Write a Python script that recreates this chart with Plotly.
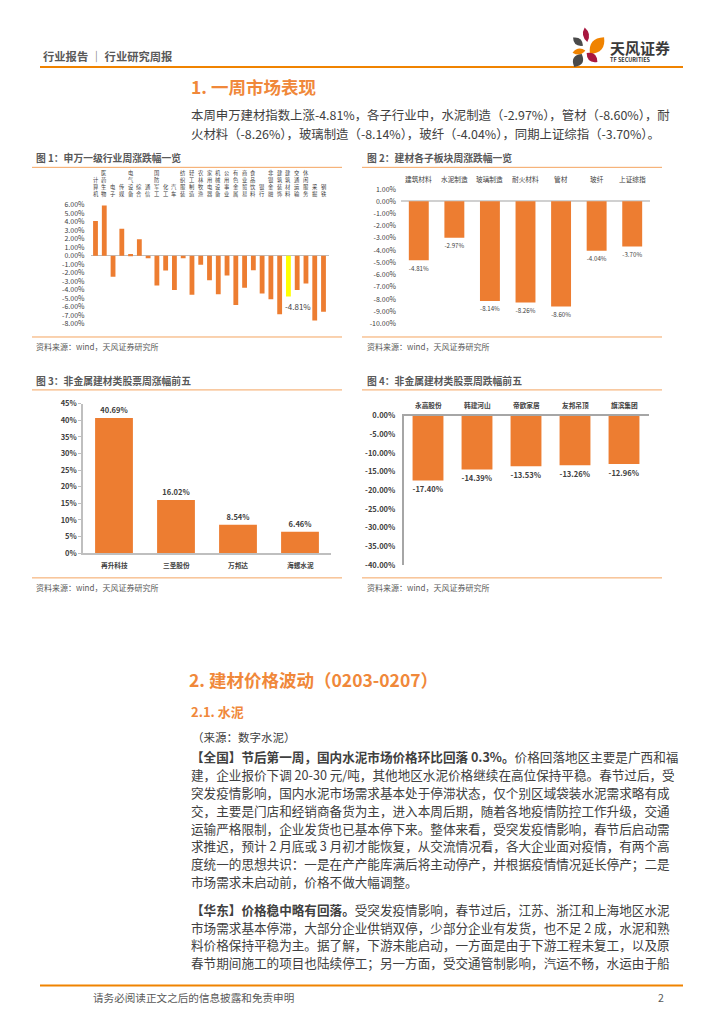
import math
import plotly.graph_objects as go

# ---------------- data ----------------
c1_cats = ["计算机", "医药生物", "电子", "传媒", "电气设备", "综合", "通信", "国防军工", "化工",
           "汽车", "纺织服装", "轻工制造", "农林牧渔", "家用电器", "机械设备", "公用事业",
           "有色金属", "商业贸易", "食品饮料", "银行", "非银金融", "建筑装饰", "建筑材料",
           "交通运输", "休闲服务", "采掘", "钢铁"]
c1_vals = [4.10, 5.93, -2.48, 3.20, 0.20, 1.94, -0.30, -3.49, -1.74,
           -4.03, -0.30, -4.60, -1.05, -2.87, -4.53, -2.33,
           -5.81, -3.76, -1.70, -4.46, -5.12, -6.90, -4.81,
           -4.03, -3.26, -7.64, -6.59]
c1_highlight = "建筑材料"
c1_ticks = list(range(-8, 7))

c2_cats = ["建筑材料", "水泥制造", "玻璃制造", "耐火材料", "管材", "玻纤", "上证综指"]
c2_vals = [-4.81, -2.97, -8.14, -8.26, -8.60, -4.04, -3.70]
c2_ticks = list(range(-10, 2))

c3_cats = ["再升科技", "三圣股份", "万邦达", "海螺水泥"]
c3_vals = [40.69, 16.02, 8.54, 6.46]
c3_ticks = list(range(0, 50, 5))

c4_cats = ["永高股份", "韩建河山", "帝欧家居", "友邦吊顶", "旗滨集团"]
c4_vals = [-17.40, -14.39, -13.53, -13.26, -12.96]
c4_ticks = list(range(-40, 5, 5))

# ---------------- helpers ----------------
W, H = 724, 1024
OFF = 8  # page body margin of the html page
FONT = "Noto Sans CJK SC"
BAR = "#ED7D31"
YELLOW = "#FFFF00"
HEAD = "#F0883A"
TXT = "#404040"
GRAY = "#595959"
LINE = "#F4A460"


def fx(x):
    return (x - OFF) / W


def fy(y):
    return 1 - (y - OFF) / H


fig = go.Figure()
annots = []
shapes = []


def text(x, y, s, size, color=TXT, bold=False, anchor="left", vanchor="middle"):
    annots.append(dict(x=fx(x), y=fy(y), xref="paper", yref="paper", text=(f"<b>{s}</b>" if bold else s),
                       showarrow=False, xanchor=anchor, yanchor=vanchor, borderpad=0,
                       font=dict(family=FONT, size=size, color=color)))


def hline(x0, x1, y, color=LINE, width=1):
    shapes.append(dict(type="line", xref="paper", yref="paper", x0=fx(x0), x1=fx(x1),
                       y0=fy(y), y1=fy(y), line=dict(color=color, width=width)))


# ---------------- chart 1 ----------------
colors1 = [YELLOW if c == c1_highlight else BAR for c in c1_cats]
fig.add_trace(go.Bar(x=c1_cats, y=c1_vals, marker=dict(color=colors1, line=dict(width=0)),
                     width=0.55, xaxis="x", yaxis="y", hoverinfo="skip"))
for c in c1_cats:
    annots.append(dict(x=c, y=fy(196), xref="x", yref="paper", text="<br>".join(list(c)),
                       showarrow=False, xanchor="center", yanchor="bottom",
                       font=dict(family=FONT, size=5.3, color=TXT)))
hi = c1_cats.index(c1_highlight)
annots.append(dict(x=c1_cats[hi], y=c1_vals[hi], xref="x", yref="y", text=f"{c1_vals[hi]:.2f}%",
                   showarrow=False, xanchor="left", yanchor="top", xshift=-5, yshift=-2,
                   font=dict(family=FONT, size=8, color=TXT)))

# ---------------- chart 2 ----------------
fig.add_trace(go.Bar(x=c2_cats, y=c2_vals, marker=dict(color=BAR, line=dict(width=0)), width=0.56,
                     xaxis="x2", yaxis="y2", hoverinfo="skip",
                     text=[f"{v:.2f}%" for v in c2_vals], textposition="outside",
                     textfont=dict(family=FONT, size=7.5, color=TXT), cliponaxis=False))
for c in c2_cats:
    annots.append(dict(x=c, y=fy(174.5), xref="x2", yref="paper", text=c, showarrow=False,
                       xanchor="center", yanchor="middle", font=dict(family=FONT, size=6.7, color=TXT)))

# ---------------- chart 3 ----------------
fig.add_trace(go.Bar(x=c3_cats, y=c3_vals, marker=dict(color=BAR, line=dict(width=0)), width=0.61,
                     xaxis="x3", yaxis="y3", hoverinfo="skip",
                     text=[f"<b>{v:.2f}%</b>" for v in c3_vals], textposition="outside",
                     textfont=dict(family=FONT, size=7.5, color=TXT), cliponaxis=False))
for c in c3_cats:
    annots.append(dict(x=c, y=fy(565), xref="x3", yref="paper", text=f"<b>{c}</b>", showarrow=False,
                       xanchor="center", yanchor="middle", font=dict(family=FONT, size=6.7, color=TXT)))

# ---------------- chart 4 ----------------
fig.add_trace(go.Bar(x=c4_cats, y=c4_vals, marker=dict(color=BAR, line=dict(width=0)), width=0.63,
                     xaxis="x4", yaxis="y4", hoverinfo="skip",
                     text=[f"<b>{v:.2f}%</b>" for v in c4_vals], textposition="outside",
                     textfont=dict(family=FONT, size=7.8, color=TXT), cliponaxis=False))
for c in c4_cats:
    annots.append(dict(x=c, y=fy(403), xref="x4", yref="paper", text=f"<b>{c}</b>", showarrow=False,
                       xanchor="center", yanchor="middle", font=dict(family=FONT, size=6.7, color=TXT)))

tickfont = dict(family=FONT, size=7, color=TXT)
layout_axes = dict(
    xaxis=dict(domain=[fx(90.5), fx(328.5)], anchor="y", showticklabels=False, showgrid=False,
               zeroline=False, showline=False, fixedrange=True),
    yaxis=dict(domain=[fy(322.7), fy(199.3)], anchor="x", range=[-8.2, 6.2], tickvals=c1_ticks,
               ticktext=[f"{v:.2f}%" for v in c1_ticks], tickfont=tickfont, showgrid=False,
               zeroline=True, zerolinecolor="#BFBFBF", zerolinewidth=1, showline=False, ticks="",
               ticklabelstandoff=5),
    xaxis2=dict(domain=[fx(401), fx(650)], anchor="y2", showticklabels=False, showgrid=False,
                zeroline=False, showline=False),
    yaxis2=dict(domain=[fy(323.5), fy(182.5)], anchor="x2", range=[-10.2, 1.2], tickvals=c2_ticks,
                ticktext=[f"{v:.2f}%" for v in c2_ticks], tickfont=tickfont, showgrid=False,
                zeroline=True, zerolinecolor="#D0D0D0", zerolinewidth=1.5, showline=False, ticks="",
                ticklabelstandoff=4),
    xaxis3=dict(domain=[fx(83), fx(331)], anchor="y3", showticklabels=False, showgrid=False,
                zeroline=False, showline=True, linecolor="#BFBFBF", linewidth=1.5),
    yaxis3=dict(domain=[fy(553), fy(402)], anchor="x3", range=[0, 45], tickvals=c3_ticks,
                ticktext=[f"<b>{v}%</b>" for v in c3_ticks], tickfont=dict(family=FONT, size=7.5, color=TXT),
                showgrid=False, zeroline=False, showline=True, linecolor="#BFBFBF", linewidth=1.5,
                ticks="outside", ticklen=3, tickcolor="#BFBFBF"),
    xaxis4=dict(domain=[fx(403.5), fx(648.5)], anchor="y4", side="top", showticklabels=False,
                showgrid=False, zeroline=False, showline=True, linecolor="#A6A6A6", linewidth=2),
    yaxis4=dict(domain=[fy(565), fy(414)], anchor="x4", range=[-40, 0], tickvals=c4_ticks,
                ticktext=[f"<b>{v:.2f}%</b>" for v in c4_ticks], tickfont=dict(family=FONT, size=7.5, color=TXT),
                showgrid=False, zeroline=False, showline=True, linecolor="#A6A6A6", linewidth=1.5, ticks="",
                ticklabelstandoff=5),
)

# ---------------- chart frames ----------------
text(35, 154, "图 1：申万一级行业周涨跌幅一览", 9.8, GRAY, bold=True)
text(366, 154, "图 2：建材各子板块周涨跌幅一览", 9.8, GRAY, bold=True)
text(35, 379, "图 3：非金属建材类股票周涨幅前五", 9.8, GRAY, bold=True)
text(366, 379, "图 4：非金属建材类股票周跌幅前五", 9.8, GRAY, bold=True)
for (x0, x1, y) in [(32, 342, 163), (362, 662, 163), (32, 342, 388), (362, 662, 388),
                    (32, 342, 334.5), (362, 662, 334.5), (32, 342, 578), (362, 662, 578)]:
    hline(x0, x1, y)
for (x, y) in [(35, 344.5), (366, 344.5), (35, 588), (366, 588)]:
    text(x, y, "资料来源：wind，天风证券研究所", 8, GRAY)

# ---------------- header / footer ----------------
text(42, 50, "行业报告 ｜ 行业研究周报", 11.3, GRAY, bold=True)
hline(40, 683, 61.5, color="#F08300", width=2)
hline(40, 683, 990, color="#F08300", width=2)
text(92, 1002, "请务必阅读正文之后的信息披露和免责申明", 10.6, GRAY)
text(665, 1002, "2", 10.6, GRAY, anchor="right")
text(609, 42, "天风证券", 15, "#3A3A3A", bold=True)
text(609, 55, "TF SECURITIES", 5.5, "#3A3A3A", bold=True)


def petal(cx, cy, L, Wd, ang, color):
    a = math.radians(ang)
    dx, dy = math.cos(a) * L / 2, math.sin(a) * L / 2
    px_, py_ = -math.sin(a) * Wd, math.cos(a) * Wd
    p1 = (cx - dx, cy - dy)
    p2 = (cx + dx, cy + dy)
    c1 = (cx + px_, cy + py_)
    c2 = (cx - px_, cy - py_)
    pth = (f"M {fx(p1[0])},{fy(p1[1])} Q {fx(c1[0])},{fy(c1[1])} {fx(p2[0])},{fy(p2[1])} "
           f"Q {fx(c2[0])},{fy(c2[1])} {fx(p1[0])},{fy(p1[1])} Z")
    shapes.append(dict(type="path", xref="paper", yref="paper", path=pth,
                       fillcolor=color, line=dict(width=0)))


CRIM, DARK, ORG = "#A8173F", "#4A4A4A", "#F08300"
petal(586, 29, 15, 6, 80, CRIM)
petal(578, 36, 13, 7, 40, DARK)
petal(597, 40, 22, 12, -50, ORG)
petal(579, 46, 13, 6, -10, ORG)
petal(592, 52, 14, 8, 40, CRIM)
petal(578, 55, 15, 10, -60, DARK)

# ---------------- body text ----------------
text(190, 81, "1. 一周市场表现", 17.5, HEAD, bold=True)
body1 = ["本周申万建材指数上涨-4.81%，各子行业中，水泥制造（-2.97%），管材（-8.60%），耐",
         "火材料（-8.26%），玻璃制造（-8.14%），玻纤（-4.04%），同期上证综指（-3.70%）。"]
for i, s in enumerate(body1):
    text(190, 110 + i * 19, s, 12.4, TXT)

text(188, 681, "2. 建材价格波动（0203-0207）", 17.5, HEAD, bold=True)
text(190, 713, "2.1. 水泥", 13, HEAD, bold=True)
text(191, 739, "（来源：数字水泥）", 11.5, TXT)

para1 = ["<b>【全国】节后第一周，国内水泥市场价格环比回落 0.3%。</b>价格回落地区主要是广西和福",
         "建，企业报价下调 20-30 元/吨，其他地区水泥价格继续在高位保持平稳。春节过后，受",
         "突发疫情影响，国内水泥市场需求基本处于停滞状态，仅个别区域袋装水泥需求略有成",
         "交，主要是门店和经销商备货为主，进入本周后期，随着各地疫情防控工作升级，交通",
         "运输严格限制，企业发货也已基本停下来。整体来看，受突发疫情影响，春节后启动需",
         "求推迟，预计 2 月底或 3 月初才能恢复，从交流情况看，各大企业面对疫情，有两个高",
         "度统一的思想共识：一是在产产能库满后将主动停产，并根据疫情情况延长停产；二是",
         "市场需求未启动前，价格不做大幅调整。"]
para2 = ["<b>【华东】价格稳中略有回落。</b>受突发疫情影响，春节过后，江苏、浙江和上海地区水泥",
         "市场需求基本停滞，大部分企业供销双停，少部分企业有发货，也不足 2 成，水泥和熟",
         "料价格保持平稳为主。据了解，下游未能启动，一方面是由于下游工程未复工，以及原",
         "春节期间施工的项目也陆续停工；另一方面，受交通管制影响，汽运不畅，水运由于船"]
for i, s in enumerate(para1):
    text(190, 759 + i * 18, s, 12.6, TXT)
for i, s in enumerate(para2):
    text(190, 913 + i * 18, s, 12.6, TXT)

fig.update_layout(
    width=W, height=H, margin=dict(l=0, r=0, t=0, b=0), paper_bgcolor="white", plot_bgcolor="white",
    showlegend=False, font=dict(family=FONT, color=TXT), annotations=annots, shapes=shapes,
    bargap=0.4, **layout_axes)

fig.write_html("out.html")
